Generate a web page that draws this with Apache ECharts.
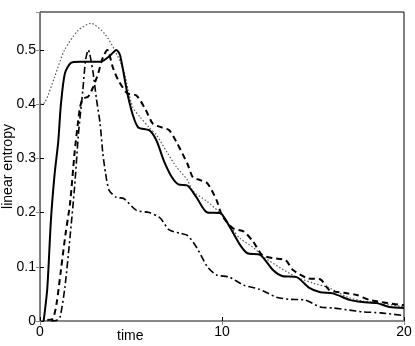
<!DOCTYPE html>
<html>
<head>
<meta charset="utf-8">
<script src="https://cdn.jsdelivr.net/npm/echarts@6/dist/echarts.min.js"></script>
<style>
  html, body { margin: 0; padding: 0; background: #fff; }
  #main { width: 415px; height: 346px; }
</style>
</head>
<body>
<div id="main"></div>
<script>
// time / linear entropy pairs
var solidData = [
  [0.2, 0], [0.4, 0.06], [0.6, 0.186], [0.8, 0.27], [1.0, 0.33], [1.15, 0.4], [1.37, 0.457],
  [1.7, 0.476], [2.2, 0.478], [3.0, 0.478], [3.4, 0.479], [3.8, 0.488], [4.2, 0.5],
  [4.4, 0.49], [4.8, 0.42], [5.1, 0.38], [5.4, 0.357], [6.0, 0.352], [6.4, 0.333],
  [6.8, 0.296], [7.25, 0.265], [7.6, 0.252], [8.1, 0.25], [8.6, 0.228], [9.2, 0.2],
  [9.9, 0.199], [10.4, 0.175], [11.0, 0.14], [11.4, 0.125], [12.1, 0.122], [12.8, 0.094],
  [13.3, 0.083], [14.1, 0.081], [14.8, 0.061], [15.4, 0.053], [16.1, 0.051], [17.0, 0.039],
  [17.7, 0.035], [18.5, 0.033], [19.2, 0.026], [20.0, 0.024]
];
var dashedData = [
  [0.4, 0.002], [0.7, 0.004], [0.9, 0.03], [1.15, 0.094], [1.4, 0.16], [1.65, 0.217],
  [1.9, 0.31], [2.1, 0.37], [2.2, 0.394], [2.35, 0.41], [2.65, 0.414], [2.9, 0.43],
  [3.2, 0.457], [3.45, 0.486], [3.7, 0.5], [4.0, 0.468], [4.3, 0.444], [4.8, 0.42],
  [5.3, 0.416], [5.8, 0.39], [6.2, 0.364], [6.7, 0.357], [7.1, 0.352], [7.5, 0.33],
  [8.1, 0.29], [8.4, 0.265], [8.8, 0.26], [9.2, 0.254], [9.7, 0.223], [10.0, 0.195],
  [10.6, 0.171], [11.2, 0.165], [11.7, 0.147], [12.2, 0.122], [12.8, 0.116], [13.5, 0.112],
  [13.9, 0.094], [14.7, 0.079], [15.4, 0.077], [15.9, 0.057], [16.7, 0.052], [17.4, 0.048],
  [18.1, 0.039], [19.1, 0.033], [20.0, 0.029]
];
var dottedData = [
  [0, 0.4], [0.27, 0.403], [0.8, 0.45], [1.35, 0.5], [2.1, 0.536], [2.8, 0.549],
  [3.55, 0.53], [4.1, 0.5], [4.6, 0.462], [4.85, 0.425], [5.1, 0.394], [5.5, 0.376],
  [6.0, 0.357], [6.4, 0.343], [7.0, 0.31], [7.5, 0.284], [8.1, 0.26], [8.4, 0.24],
  [9.2, 0.22], [9.9, 0.199], [10.6, 0.168], [11.0, 0.152], [11.7, 0.136], [12.3, 0.118],
  [13.2, 0.098], [14.1, 0.081], [15.0, 0.07], [15.9, 0.061], [16.9, 0.044], [17.7, 0.037],
  [18.7, 0.033], [20.0, 0.026]
];
var dashDotData = [
  [0.6, 0], [0.9, 0.001], [1.1, 0.007], [1.37, 0.063], [1.65, 0.155], [1.9, 0.247],
  [2.1, 0.34], [2.2, 0.376], [2.35, 0.425], [2.5, 0.48], [2.65, 0.5], [2.9, 0.462],
  [3.1, 0.41], [3.3, 0.365], [3.45, 0.31], [3.6, 0.273], [3.8, 0.241], [4.2, 0.228],
  [4.6, 0.226], [5.3, 0.204], [6.0, 0.2], [6.6, 0.19], [7.1, 0.168], [7.7, 0.162],
  [8.1, 0.158], [8.6, 0.136], [9.2, 0.1], [9.7, 0.085], [10.4, 0.081], [11.2, 0.066],
  [12.0, 0.059], [13.0, 0.044], [13.7, 0.04], [14.5, 0.039], [15.4, 0.026], [16.1, 0.024],
  [17.0, 0.02], [17.7, 0.017], [18.7, 0.015], [20.0, 0.01]
];
var xTicks = [0, 10, 20];
var yTicks = [0, 0.1, 0.2, 0.3, 0.4, 0.5];

var chart = echarts.init(document.getElementById('main'));
var font = 'Liberation Sans, Arial, sans-serif';

function lineSeries(data, type, width, color) {
  return {
    type: 'line',
    data: data,
    smooth: 0.25,
    symbol: 'none',
    lineStyle: { color: color, width: width, type: type },
    z: 3
  };
}

chart.setOption({
  animation: false,
  backgroundColor: '#fff',
  grid: {
    left: 40, right: 11, top: 12, bottom: 25,
    containLabel: false, outerBoundsMode: 'none',
    show: true, borderColor: '#000', borderWidth: 1
  },
  xAxis: [{
    type: 'value', min: 0, max: 20, interval: 10,
    axisLine: { show: true, lineStyle: { color: '#000' } },
    axisTick: { show: true, inside: true, length: 4, lineStyle: { color: '#000' } },
    axisLabel: { color: '#000', fontFamily: font, fontSize: 14, margin: 4,
      formatter: function (v) { return xTicks.indexOf(v) >= 0 ? String(v) : ''; } },
    splitLine: { show: false }
  }, {
    type: 'value', min: 0, max: 20, interval: 10, position: 'top',
    axisLine: { show: true, lineStyle: { color: '#888', width: 2 } },
    axisTick: { show: true, inside: true, length: 4, lineStyle: { color: '#888' } },
    axisLabel: { show: false }, splitLine: { show: false }
  }],
  yAxis: [{
    type: 'value', min: 0, max: 0.57, interval: 0.1,
    name: 'linear entropy', nameLocation: 'middle', nameGap: 25, nameMoveOverlap: false,
    nameTextStyle: { color: '#000', fontFamily: font, fontSize: 14 },
    axisLine: { show: true, lineStyle: { color: '#000' } },
    axisTick: { show: true, inside: true, length: 4, lineStyle: { color: '#000' } },
    axisLabel: { color: '#000', fontFamily: font, fontSize: 14, margin: 4, showMaxLabel: false,
      formatter: function (v) {
        var r = Math.round(v * 10) / 10;
        return yTicks.indexOf(r) >= 0 ? String(r) : '';
      } },
    splitLine: { show: false }
  }, {
    type: 'value', min: 0, max: 0.57, interval: 0.1, position: 'right',
    axisLine: { show: true, lineStyle: { color: '#777' } },
    axisTick: { show: true, inside: true, length: 4, lineStyle: { color: '#888' } },
    axisLabel: { show: false }, splitLine: { show: false }
  }],
  graphic: [{
    type: 'text', left: 117, top: 329,
    style: { text: 'time', fill: '#000', font: '14px ' + font }
  }],
  series: [
    lineSeries(dottedData, [1.5, 2], 1.2, '#555'),
    lineSeries(dashDotData, [7, 3, 2, 3], 1.6, '#000'),
    lineSeries(dashedData, [6, 4], 2, '#000'),
    lineSeries(solidData, 'solid', 2, '#000')
  ]
});
</script>
</body>
</html>
